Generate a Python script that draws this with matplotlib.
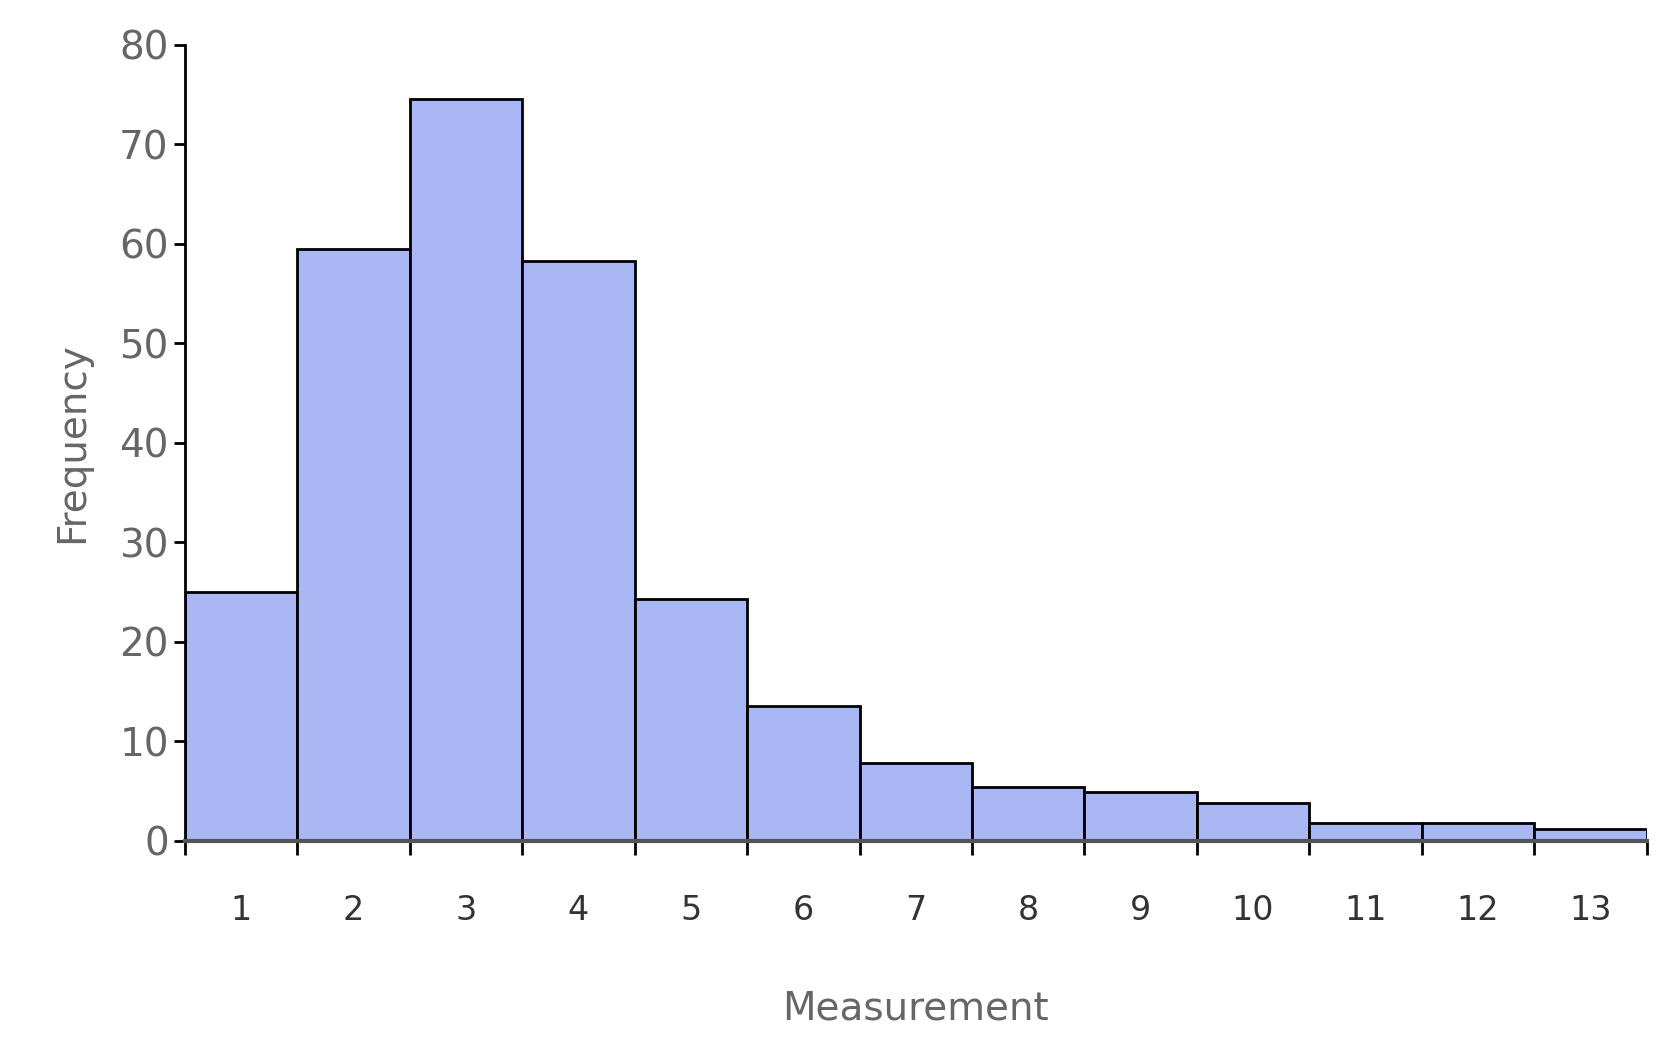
import numpy as np
import matplotlib
matplotlib.use('Agg')
import matplotlib.pyplot as plt

categories = [str(i) for i in range(1, 14)]
frequency = [25, 59.5, 74.5, 58.3, 24.3, 13.5, 7.8, 5.4, 4.9, 3.8, 1.8, 1.8, 1.2]

fig = plt.figure(figsize=(16.65, 10.38), dpi=100)
ax = fig.add_axes([0.111, 0.19, 0.878, 0.767])

x = np.arange(len(categories))
ax.bar(x, frequency, width=1.0, color='#aab7f5', edgecolor='black', linewidth=2)

ax.set_xlim(-0.5, len(categories) - 0.5)
ax.set_ylim(0, 80)
ax.set_yticks(range(0, 81, 10))
ax.set_xticks(x)
ax.set_xticklabels(categories)
ax.set_xticks(np.arange(-0.5, len(categories), 1.0), minor=True)
ax.tick_params(axis='x', which='major', length=0, pad=38, labelsize=24, labelcolor='#333333')
ax.tick_params(axis='x', which='minor', length=10, width=2, direction='out')
ax.tick_params(axis='y', length=8, width=2, labelsize=28, labelcolor='#666666')

for side in ['top', 'right']:
    ax.spines[side].set_visible(False)
ax.spines['left'].set_linewidth(2)
ax.spines['bottom'].set_linewidth(3)
ax.spines['bottom'].set_color('#555555')

ax.set_xlabel('Measurement', fontsize=28, color='#666666', labelpad=45)
ax.set_ylabel('Frequency', fontsize=28, color='#666666', labelpad=20)

fig.savefig('out.png', dpi=100)
